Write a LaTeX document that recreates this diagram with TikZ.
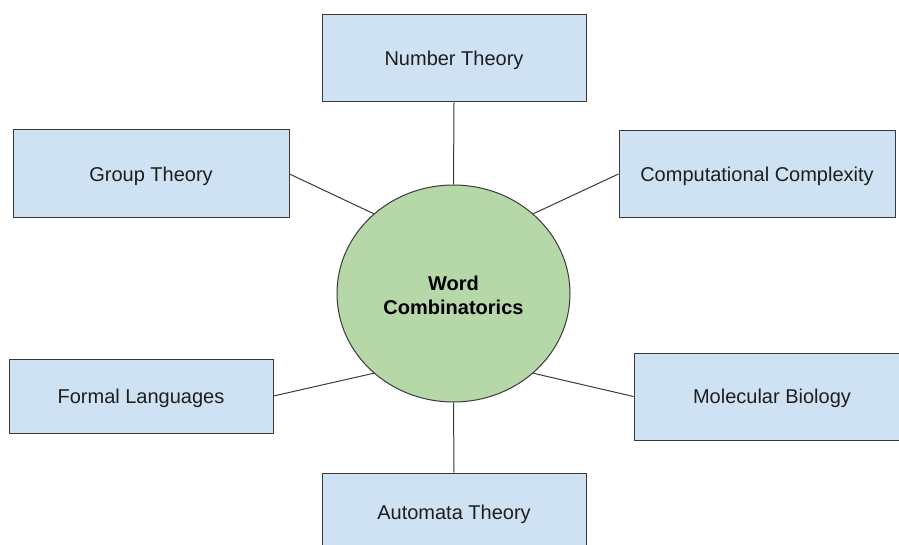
\documentclass[tikz,border=0pt]{standalone}
\usepackage{fontspec}
\setmainfont{Liberation Sans}
\usetikzlibrary{shapes.geometric}
\definecolor{boxfill}{HTML}{CFE2F3}
\definecolor{circfill}{HTML}{B6D7A8}
\definecolor{edge}{HTML}{3A3A3A}
\definecolor{txt}{HTML}{1E1E1E}
\tikzset{
  topic/.style={draw=edge, fill=boxfill, line width=0.75pt, inner sep=0pt,
    text height=10.7pt, text depth=0pt,
    text=txt, font=\fontsize{15pt}{18pt}\selectfont},
  hub/.style={ellipse, draw=edge, fill=circfill, line width=0.75pt, inner sep=0pt,
    minimum width={233*0.75pt}, minimum height={217*0.75pt}, align=center,
    text=black, font=\fontsize{15pt}{18pt}\selectfont\bfseries},
  link/.style={draw=edge, line width=0.75pt}
}
\begin{document}
\begin{tikzpicture}[x=0.75pt, y=-0.75pt]
\useasboundingbox (0,0) rectangle (899,545);
\clip (0,0) rectangle (899,545);
\node[hub] (c) at (453.5,293.5) {};
\node[font=\fontsize{15pt}{18pt}\selectfont\bfseries, align=center, inner sep=0pt] (ct) at (453.5,295.5) {Word\\Combinatorics};
\node[topic, minimum width={264*0.75pt}, minimum height={87*0.75pt}] (nt) at (454,58.5) {Number Theory};
\node[topic, minimum width={276*0.75pt}, minimum height={88*0.75pt}] (gt) at (151,174) {Group Theory};
\node[topic, minimum width={276*0.75pt}, minimum height={87*0.75pt}] (cc) at (757,174) {Computational Complexity};
\node[topic, minimum width={264*0.75pt}, minimum height={74*0.75pt}] (fl) at (141,396) {Formal Languages};
\node[topic, minimum width={276*0.75pt}, minimum height={87*0.75pt}] (mb) at (772,396.5) {Molecular Biology};
\node[topic, minimum width={264*0.75pt}, minimum height={79*0.75pt}] (at) at (454,512.5) {Automata Theory};
\draw[link] (nt.south) -- (c.north);
\draw[link] (at.north) -- (c.south);
\draw[link] (gt.east) -- (c.135);
\draw[link] (cc.west) -- (c.45);
\draw[link] (fl.east) -- (c.225);
\draw[link] (mb.west) -- (c.315);
\end{tikzpicture}
\end{document}
